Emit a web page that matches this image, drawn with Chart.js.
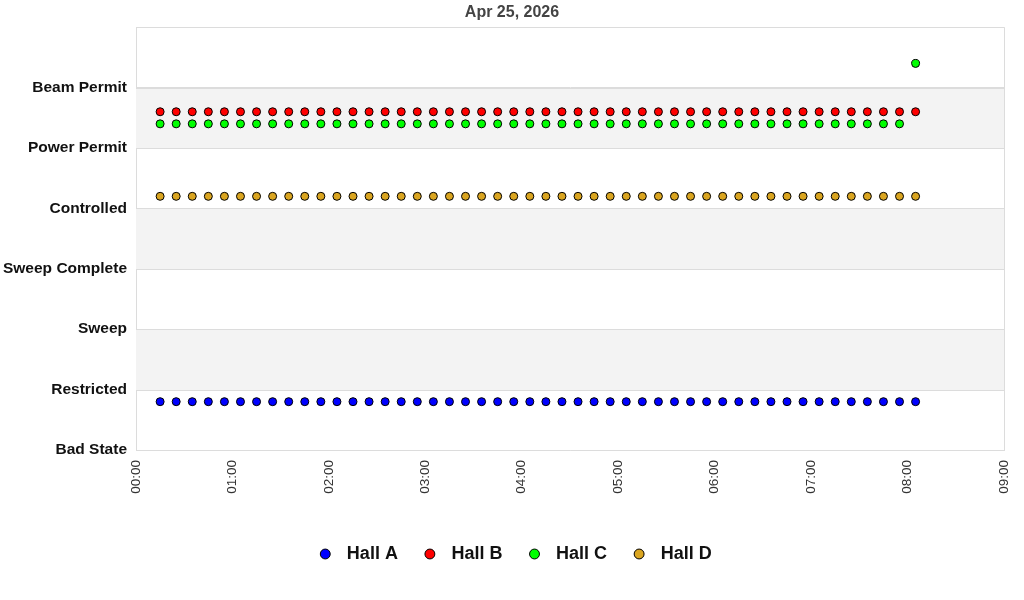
<!DOCTYPE html>
<html>
<head>
<meta charset="utf-8">
<script src="https://cdn.jsdelivr.net/npm/chart.js@4/dist/chart.umd.min.js"></script>
<style>
  html, body { margin: 0; padding: 0; background: #ffffff; }
  #wrap { width: 1024px; height: 600px; position: relative; }
</style>
</head>
<body>
<div id="wrap"><canvas id="c" width="1024" height="600"></canvas></div>
<script>
// ---------- data ----------
const chartTitle = "Apr 25, 2026";
const stateLabels = ["Bad State", "Restricted", "Sweep", "Sweep Complete", "Controlled", "Power Permit", "Beam Permit", ""];
const xTickLabels = ["00:00","01:00","02:00","03:00","04:00","05:00","06:00","07:00","08:00","09:00"];

const sampleTimes = [
  "00:15","00:25","00:35","00:45","00:55",
  "01:05","01:15","01:25","01:35","01:45","01:55",
  "02:05","02:15","02:25","02:35","02:45","02:55",
  "03:05","03:15","03:25","03:35","03:45","03:55",
  "04:05","04:15","04:25","04:35","04:45","04:55",
  "05:05","05:15","05:25","05:35","05:45","05:55",
  "06:05","06:15","06:25","06:35","06:45","06:55",
  "07:05","07:15","07:25","07:35","07:45","07:55",
  "08:05"
];

const hallA = [
  0.8,0.8,0.8,0.8,0.8,0.8,0.8,0.8,0.8,0.8,0.8,0.8,
  0.8,0.8,0.8,0.8,0.8,0.8,0.8,0.8,0.8,0.8,0.8,0.8,
  0.8,0.8,0.8,0.8,0.8,0.8,0.8,0.8,0.8,0.8,0.8,0.8,
  0.8,0.8,0.8,0.8,0.8,0.8,0.8,0.8,0.8,0.8,0.8,0.8
];
const hallB = [
  5.6,5.6,5.6,5.6,5.6,5.6,5.6,5.6,5.6,5.6,5.6,5.6,
  5.6,5.6,5.6,5.6,5.6,5.6,5.6,5.6,5.6,5.6,5.6,5.6,
  5.6,5.6,5.6,5.6,5.6,5.6,5.6,5.6,5.6,5.6,5.6,5.6,
  5.6,5.6,5.6,5.6,5.6,5.6,5.6,5.6,5.6,5.6,5.6,5.6
];
const hallC = [
  5.4,5.4,5.4,5.4,5.4,5.4,5.4,5.4,5.4,5.4,5.4,5.4,
  5.4,5.4,5.4,5.4,5.4,5.4,5.4,5.4,5.4,5.4,5.4,5.4,
  5.4,5.4,5.4,5.4,5.4,5.4,5.4,5.4,5.4,5.4,5.4,5.4,
  5.4,5.4,5.4,5.4,5.4,5.4,5.4,5.4,5.4,5.4,5.4,6.4
];
const hallD = [
  4.2,4.2,4.2,4.2,4.2,4.2,4.2,4.2,4.2,4.2,4.2,4.2,
  4.2,4.2,4.2,4.2,4.2,4.2,4.2,4.2,4.2,4.2,4.2,4.2,
  4.2,4.2,4.2,4.2,4.2,4.2,4.2,4.2,4.2,4.2,4.2,4.2,
  4.2,4.2,4.2,4.2,4.2,4.2,4.2,4.2,4.2,4.2,4.2,4.2
];

const seriesNames = ["Hall A", "Hall B", "Hall C", "Hall D"];
const seriesColors = ["#0000ff", "#ff0000", "#00ff00", "#daa520"];
const seriesValues = [hallA, hallB, hallC, hallD];

// ---------- helpers ----------
function toMinutes(hhmm) {
  const p = hhmm.split(":");
  return parseInt(p[0], 10) * 60 + parseInt(p[1], 10);
}
const FONT = "'Liberation Sans', Arial, Helvetica, sans-serif";

const datasets = seriesNames.map((name, i) => ({
  label: name,
  data: sampleTimes.map((t, k) => ({ x: toMinutes(t), y: seriesValues[i][k] })),
  showLine: false,
  backgroundColor: seriesColors[i],
  borderColor: "#000000",
  borderWidth: 1,
  pointStyle: "circle",
  pointRadius: 4,
  pointHoverRadius: 4,
  pointBorderWidth: 1,
  pointBorderColor: "#000000",
  pointBackgroundColor: seriesColors[i]
}));

// bands + plot frame
const bandPlugin = {
  id: "bands",
  afterLayout(chart) {
    // centre title and legend like the reference
    if (chart.titleBlock) { chart.titleBlock.left = 20; }
    if (chart.legend) { chart.legend.left = 24; }
  },
  beforeDatasetsDraw(chart) {
    const { ctx, chartArea, scales } = chart;
    const y = scales.y;
    ctx.save();
    ctx.fillStyle = "#f3f3f3";
    [[1, 2], [3, 4], [5, 6]].forEach(([a, b]) => {
      const top = y.getPixelForValue(b);
      const bot = y.getPixelForValue(a);
      ctx.fillRect(chartArea.left, Math.round(top), chartArea.right - chartArea.left, Math.round(bot) - Math.round(top));
    });
    ctx.strokeStyle = "#dcdcdc";
    ctx.lineWidth = 1;
    for (let v = 1; v <= 7; v++) {
      const py = Math.round(y.getPixelForValue(v)) + 0.5;
      ctx.beginPath();
      ctx.moveTo(chartArea.left, py);
      ctx.lineTo(chartArea.right, py);
      ctx.stroke();
    }
    const rx = Math.round(chartArea.right) + 0.5;
    ctx.beginPath();
    ctx.moveTo(rx, chartArea.top);
    ctx.lineTo(rx, chartArea.bottom);
    ctx.stroke();
    ctx.restore();
  }
};

new Chart(document.getElementById("c"), {
  type: "scatter",
  data: { datasets },
  plugins: [bandPlugin],
  options: {
    responsive: false,
    animation: false,
    events: [],
    layout: { padding: { left: 0, right: 20, top: 0, bottom: 27 } },
    plugins: {
      title: {
        display: true,
        text: chartTitle,
        color: "#444444",
        font: { family: FONT, size: 16, weight: "bold" },
        padding: { top: 3, bottom: 5 }
      },
      legend: {
        display: true,
        position: "bottom",
        labels: {
          usePointStyle: true,
          pointStyle: "circle",
          boxHeight: 7,
          padding: 23,
          color: "#111111",
          font: { family: FONT, size: 18, weight: "bold" },
          generateLabels(chart) {
            return chart.data.datasets.map((ds, i) => ({
              text: "\u2009" + ds.label,
              fillStyle: ds.backgroundColor,
              strokeStyle: "#000000",
              lineWidth: 1,
              pointStyle: "circle",
              hidden: false,
              datasetIndex: i,
              fontColor: "#111111"
            }));
          }
        }
      },
      tooltip: { enabled: false }
    },
    scales: {
      x: {
        type: "linear",
        min: 0,
        max: 540,
        afterBuildTicks(scale) {
          scale.ticks = xTickLabels.map(l => ({ value: toMinutes(l) }));
        },
        ticks: {
          autoSkip: false,
          minRotation: 90,
          maxRotation: 90,
          padding: 10,
          color: "#333333",
          font: { family: FONT, size: 13.5 },
          callback(value) {
            const m = Math.round(value);
            const s = xTickLabels.find(l => toMinutes(l) === m);
            return s !== undefined ? s : "";
          }
        },
        grid: { display: false, drawTicks: false },
        border: { display: true, color: "#dcdcdc", width: 1 },
        afterFit(scale) {
          scale.height = 72;
          scale.paddingLeft = 0;
          scale.paddingRight = 0;
        }
      },
      y: {
        type: "linear",
        min: 0,
        max: 7,
        ticks: {
          stepSize: 1,
          padding: 9,
          color: "#111111",
          font: { family: FONT, size: 15.5, weight: "bold" },
          callback(value) {
            return stateLabels[Math.round(value)] || "";
          }
        },
        grid: { display: true, color: "#dcdcdc", lineWidth: 1, drawTicks: false },
        border: { display: true, color: "#dcdcdc", width: 1 },
        afterFit(scale) {
          scale.width = 136;
          scale.paddingTop = 0;
          scale.paddingBottom = 0;
        }
      }
    }
  }
});
</script>
</body>
</html>
